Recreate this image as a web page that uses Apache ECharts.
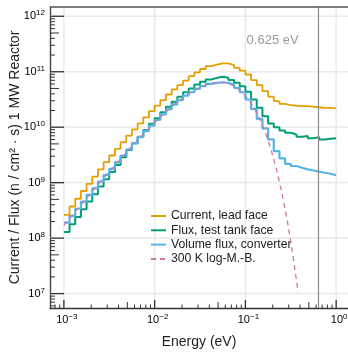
<!DOCTYPE html>
<html>
<head>
<meta charset="utf-8">
<script src="https://cdn.jsdelivr.net/npm/echarts@6/dist/echarts.min.js"></script>
<style>
html,body{margin:0;padding:0;background:#fff;}
#c{width:348px;height:354px;}
</style>
</head>
<body>
<div id="c"></div>
<script>
// ---------- data ----------
const binsPerDecade = 16;          // logarithmic energy bins
const binStartExp = -3;            // first bin edge at 1e-3 eV

const currentLeadFace = [
  2.63e8, 3.72e8, 5.13e8, 7.08e8, 9.55e8, 1.29e9, 1.74e9, 2.34e9,
  3.09e9, 4.07e9, 5.37e9, 7.08e9, 9.12e9, 1.17e10, 1.51e10, 1.95e10,
  2.45e10, 3.09e10, 3.89e10, 4.79e10, 5.75e10, 6.92e10, 8.32e10, 9.77e10,
  1.12e11, 1.26e11, 1.35e11, 1.41e11, 1.41e11, 1.32e11, 1.17e11, 1.05e11,
  8.91e10, 7.08e10, 5.75e10, 4.47e10, 3.55e10, 2.95e10, 2.63e10, 2.51e10,
  2.45e10, 2.40e10, 2.40e10, 2.34e10, 2.29e10, 2.24e10, 2.24e10, 2.19e10
];
const fluxTestTankFace = [
  1.29e8, 1.78e8, 2.40e8, 3.31e8, 4.57e8, 6.17e8, 8.51e8, 1.15e9,
  1.55e9, 2.09e9, 2.88e9, 3.89e9, 5.13e9, 6.76e9, 8.91e9, 1.15e10,
  1.45e10, 1.86e10, 2.34e10, 2.88e10, 3.55e10, 4.27e10, 5.01e10, 5.89e10,
  6.61e10, 7.24e10, 7.76e10, 8.13e10, 7.76e10, 7.08e10, 6.31e10, 5.50e10,
  4.37e10, 3.16e10, 2.24e10, 1.58e10, 1.17e10, 1.00e10, 8.71e9, 7.94e9,
  7.41e9, 6.76e9, 6.92e9, 6.31e9, 6.61e9, 6.03e9, 6.17e9, 6.31e9
];
const volumeFluxConverter = [
  1.91e8, 2.51e8, 3.39e8, 4.57e8, 6.03e8, 7.94e8, 1.05e9, 1.38e9,
  1.78e9, 2.34e9, 3.09e9, 3.98e9, 5.13e9, 6.61e9, 8.51e9, 1.07e10,
  1.35e10, 1.70e10, 2.09e10, 2.57e10, 3.09e10, 3.72e10, 4.27e10, 4.90e10,
  5.50e10, 6.03e10, 6.31e10, 6.46e10, 6.31e10, 5.89e10, 5.13e10, 4.27e10,
  3.16e10, 2.14e10, 1.41e10, 9.55e9, 6.03e9, 3.72e9, 2.75e9, 2.19e9,
  2.00e9, 1.86e9, 1.74e9, 1.66e9, 1.58e9, 1.51e9, 1.45e9, 1.36e9
];
const mbEnergy = [
  0.001, 0.001074, 0.001241, 0.001433, 0.001655, 0.001911, 0.002207, 0.002549,
  0.002943, 0.003398, 0.003924, 0.004532, 0.005233, 0.006043, 0.006978, 0.008058,
  0.009306, 0.010746, 0.012409, 0.01433, 0.016548, 0.01911, 0.022067, 0.025483,
  0.029427, 0.033982, 0.039241, 0.045315, 0.052329, 0.060428, 0.069781, 0.080582,
  0.093054, 0.10746, 0.12409, 0.1433, 0.16548, 0.1911, 0.22067, 0.25483,
  0.29427, 0.33982, 0.37, 0.38
];
const mbValue = [
  1.71e8, 1.97e8, 2.61e8, 3.45e8, 4.57e8, 6.03e8, 7.95e8, 1.05e9,
  1.37e9, 1.80e9, 2.35e9, 3.06e9, 3.98e9, 5.14e9, 6.61e9, 8.46e9,
  1.07e10, 1.36e10, 1.69e10, 2.10e10, 2.57e10, 3.10e10, 3.69e10, 4.31e10,
  4.93e10, 5.52e10, 6.00e10, 6.33e10, 6.43e10, 6.27e10, 5.83e10, 5.11e10,
  4.21e10, 3.22e10, 2.25e10, 1.43e10, 8.08e9, 4.00e9, 1.70e9, 6.05e8,
  1.75e8, 4.01e7, 1.48e7, 1.06e7
];
const seriesNames = ['Current, lead face', 'Flux, test tank face', 'Volume flux, converter', '300 K log-M.-B.'];
const markerEnergy = 0.625;
const markerLabel = '0.625 eV';
const xTickExps = [-3, -2, -1, 0];
const yTickExps = [7, 8, 9, 10, 11, 12];
const minorMultipliers = [2, 3, 4, 5, 6, 7, 8, 9];
const X_MIN = 7.03e-4, X_MAX = 1.35;
const Y_MIN = 5.5e6, Y_MAX = 1.47e12;
const xTitle = 'Energy (eV)';
const yTitle = 'Current / Flux (n / cm\u00B2 \u00B7 s) 1 MW Reactor';

// ---------- build ----------
const FONT = 'Liberation Sans, Arial, Helvetica, sans-serif';
const colors = ['#E69F00', '#009E73', '#56B4E9', '#CC79A7'];

function stepPoints(vals) {
  const pts = vals.map((v, i) => [Math.pow(10, binStartExp + i / binsPerDecade), v]);
  pts.push([Math.pow(10, binStartExp + vals.length / binsPerDecade), vals[vals.length - 1]]);
  return pts;
}

const chart = echarts.init(document.getElementById('c'), null, {renderer: 'canvas'});

const grid = {left: 47, right: 0, top: 7, bottom: 34.5};

const option = {
  animation: false,
  textStyle: {fontFamily: FONT},
  grid: grid,
  xAxis: {
    type: 'log', logBase: 10, min: X_MIN, max: X_MAX,
    axisLine: {show: true, onZero: false, lineStyle: {color: '#333', width: 1.4}},
    axisTick: {show: false}, axisLabel: {show: false}, splitLine: {show: false},
    name: xTitle, nameLocation: 'middle', nameGap: 27,
    nameTextStyle: {fontSize: 14, color: '#222', fontFamily: FONT}
  },
  yAxis: {
    type: 'log', logBase: 10, min: Y_MIN, max: Y_MAX,
    axisLine: {show: true, onZero: false, lineStyle: {color: '#444', width: 1.4}},
    axisTick: {show: false}, axisLabel: {show: false}, splitLine: {show: false},
    name: yTitle, nameLocation: 'middle', nameGap: 28, nameRotate: 90,
    nameTextStyle: {fontSize: 14, color: '#222', fontFamily: FONT}
  },
  legend: {
    orient: 'vertical', left: 145, top: 205,
    itemWidth: 15, itemHeight: 12, itemGap: 2.3,
    itemStyle: {opacity: 0},
    textStyle: {fontSize: 12.2, color: '#222', fontFamily: FONT},
    data: seriesNames
  },
  series: [
    {name: seriesNames[0], type: 'line', step: 'end', data: stepPoints(currentLeadFace),
     symbol: 'none', color: colors[0], lineStyle: {width: 1.8, color: colors[0]}, z: 3},
    {name: seriesNames[1], type: 'line', step: 'end', data: stepPoints(fluxTestTankFace),
     symbol: 'none', color: colors[1], lineStyle: {width: 2, color: colors[1]}, z: 3},
    {name: seriesNames[2], type: 'line', step: 'end', data: stepPoints(volumeFluxConverter),
     symbol: 'none', color: colors[2], lineStyle: {width: 2.2, color: colors[2]}, z: 3},
    {name: seriesNames[3], type: 'line', data: mbEnergy.map((e, i) => [e, mbValue[i]]),
     symbol: 'none', color: colors[3], lineStyle: {width: 1.3, color: colors[3], type: [5, 4]}, z: 4,
     markLine: {
       silent: true, symbol: 'none', animation: false,
       lineStyle: {color: '#8a8a8a', width: 1.2, type: 'solid'},
       label: {show: false},
       data: [{xAxis: markerEnergy}]
     }}
  ]
};
chart.setOption(option);

// ---------- axis decorations through the chart's own scales ----------
const P = (x, y) => chart.convertToPixel({gridIndex: 0}, [x, y]);
const tl = P(X_MIN, Y_MAX), br = P(X_MAX, Y_MIN);
const L = tl[0], T = tl[1], R = br[0], B = br[1];
const els = [];
const gridColor = '#ebebeb';
const tickColor = '#333';

// grid lines
xTickExps.forEach(e => {
  const px = P(Math.pow(10, e), 1e9)[0];
  els.push({type: 'line', z: 1, silent: true, shape: {x1: px, y1: T, x2: px, y2: B}, style: {stroke: gridColor, lineWidth: 1.6}});
});
yTickExps.forEach(e => {
  const py = P(1e-2, Math.pow(10, e))[1];
  els.push({type: 'line', z: 1, silent: true, shape: {x1: L, y1: py, x2: R, y2: py}, style: {stroke: gridColor, lineWidth: 1.6}});
});
// top frame
els.push({type: 'line', z: 10, silent: true, shape: {x1: L, y1: T, x2: R, y2: T}, style: {stroke: '#555', lineWidth: 1.4}});

// y ticks (inside)
for (let e = 6; e <= 12; e++) {
  const py = P(1e-2, Math.pow(10, e))[1];
  if (py >= T - 0.5 && py <= B + 0.5 && yTickExps.includes(e)) {
    els.push({type: 'line', z: 10, silent: true, shape: {x1: L, y1: py, x2: L + 14, y2: py}, style: {stroke: tickColor, lineWidth: 1.3}});
  }
  minorMultipliers.forEach(m => {
    const v = m * Math.pow(10, e);
    const y = P(1e-2, v)[1];
    if (y < T + 1 || y > B - 1) return;
    const len = m === 5 ? 9 : 5;
    els.push({type: 'line', z: 10, silent: true, shape: {x1: L, y1: y, x2: L + len, y2: y}, style: {stroke: tickColor, lineWidth: 1}});
  });
}
// x ticks (inside)
for (let e = -4; e <= 0; e++) {
  const px = P(Math.pow(10, e), 1e9)[0];
  if (px >= L && px <= R && xTickExps.includes(e)) {
    els.push({type: 'line', z: 10, silent: true, shape: {x1: px, y1: B, x2: px, y2: B - 8}, style: {stroke: tickColor, lineWidth: 1.3}});
  }
  minorMultipliers.forEach(m => {
    const v = m * Math.pow(10, e);
    const x = P(v, 1e9)[0];
    if (x < L + 1 || x > R - 1) return;
    const len = m === 5 ? 6 : 3.5;
    els.push({type: 'line', z: 10, silent: true, shape: {x1: x, y1: B, x2: x, y2: B - len}, style: {stroke: tickColor, lineWidth: 1}});
  });
}

// tick labels with superscripts
const labelRich = {
  b: {fontSize: 11, color: '#808080', fontFamily: FONT, lineHeight: 14},
  s: {fontSize: 8, color: '#808080', fontFamily: FONT, verticalAlign: 'top', lineHeight: 14}
};
yTickExps.forEach(e => {
  const py = P(1e-2, Math.pow(10, e))[1];
  els.push({type: 'text', z: 10, silent: true, x: L - 5, y: py,
    style: {text: '{b|10}{s|' + e + '}', rich: labelRich, align: 'right', verticalAlign: 'middle'}});
});
xTickExps.forEach(e => {
  const px = P(Math.pow(10, e), 1e9)[0];
  els.push({type: 'text', z: 10, silent: true, x: px + 3, y: B + 5,
    style: {text: '{b|10}{s|' + (e < 0 ? '\u2212' + (-e) : e) + '}', rich: labelRich, align: 'center', verticalAlign: 'top'}});
});

// marker label
const mx = P(markerEnergy, 1e9)[0];
els.push({type: 'text', z: 10, silent: true, x: mx - 19, y: 40,
  style: {text: markerLabel, fontSize: 13, fill: '#999', fontFamily: FONT, align: 'right', verticalAlign: 'middle'}});

chart.setOption({graphic: {elements: els}});
</script>
</body>
</html>
